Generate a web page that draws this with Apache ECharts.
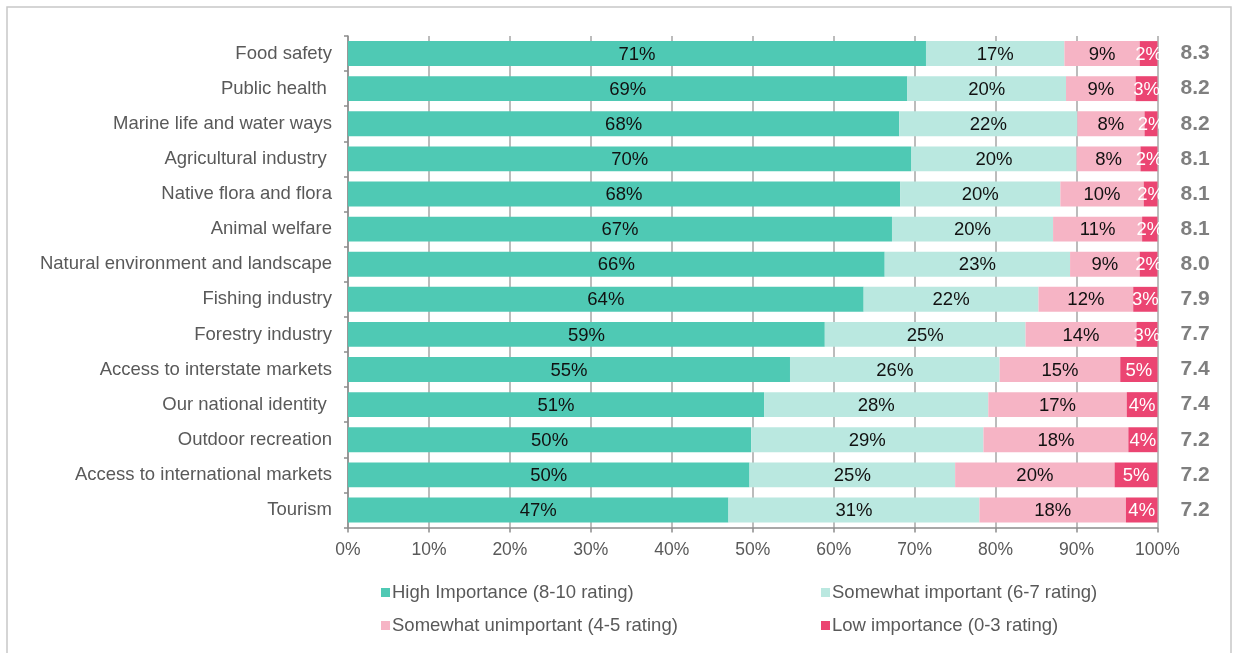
<!DOCTYPE html>
<html>
<head>
<meta charset="utf-8">
<script src="https://cdn.jsdelivr.net/npm/echarts@6/dist/echarts.min.js"></script>
<style>html,body{margin:0;padding:0;background:#fff;}#chart{width:1234px;height:653px;}</style>
</head>
<body>
<div id="chart"></div>
<script>
const categories = ["Food safety", "Public health ", "Marine life and water ways", "Agricultural industry ", "Native flora and flora", "Animal welfare", "Natural environment and landscape", "Fishing industry", "Forestry industry", "Access to interstate markets", "Our national identity ", "Outdoor recreation", "Access to international markets", "Tourism"];
const highImportance = [71.4, 69.1, 68.1, 69.6, 68.2, 67.2, 66.3, 63.7, 58.9, 54.6, 51.4, 49.8, 49.6, 47.0];
const somewhatImportant = [17.1, 19.6, 22.0, 20.4, 19.8, 19.9, 22.9, 21.6, 24.8, 25.9, 27.7, 28.7, 25.4, 31.0];
const somewhatUnimportant = [9.3, 8.6, 8.3, 7.9, 10.3, 11.0, 8.6, 11.7, 13.7, 14.9, 17.1, 17.9, 19.7, 18.1];
const lowImportance = [2.2, 2.7, 1.6, 2.1, 1.7, 1.9, 2.2, 3.0, 2.6, 4.6, 3.8, 3.6, 5.3, 3.9];
const meanScores = ["8.3", "8.2", "8.2", "8.1", "8.1", "8.1", "8.0", "7.9", "7.7", "7.4", "7.4", "7.2", "7.2", "7.2"];
const seriesNames = ["High Importance (8-10 rating)", "Somewhat important (6-7 rating)", "Somewhat unimportant (4-5 rating)", "Low importance (0-3 rating)"];
const xTicks = [0, 10, 20, 30, 40, 50, 60, 70, 80, 90, 100];

const colors = ["#4FC9B4", "#BAE8E0", "#F6B4C5", "#EB4572"];
const FONT = "'Liberation Sans', Arial, sans-serif";
const chart = echarts.init(document.getElementById('chart'), null, {renderer: 'canvas'});

function mkSeries(name, data, color, labelColor) {
  return {
    name: name, type: 'bar', stack: 'total', data: data,
    barCategoryGap: '29%',
    itemStyle: {color: color},
    label: {
      show: true, position: 'inside', color: labelColor,
      fontFamily: FONT, fontSize: 18.5, offset: [0, 1],
      formatter: p => Math.round(p.value) + '%'
    },
    emphasis: {disabled: true},
    z: 3
  };
}

function mkLegend(name, left, top) {
  return {
    data: [name], left: left, top: top,
    itemWidth: 9, itemHeight: 9, icon: 'rect', padding: 0,
    textStyle: {fontFamily: FONT, fontSize: 18.5, color: '#595959', padding: [0, 0, 0, -3]},
    selectedMode: false
  };
}

chart.setOption({
  animation: false,
  backgroundColor: '#fff',
  color: colors,
  graphic: [{
    type: 'rect', shape: {x: 7, y: 7, width: 1224, height: 700},
    style: {fill: 'none', stroke: '#C8C8C8', lineWidth: 1.5}, silent: true
  }],
  grid: {left: 348, right: 76.5, top: 36, bottom: 125.5, containLabel: false},
  legend: [
    mkLegend(seriesNames[0], 381, 583),
    mkLegend(seriesNames[1], 821, 583),
    mkLegend(seriesNames[2], 381, 616),
    mkLegend(seriesNames[3], 821, 616)
  ],
  xAxis: {
    type: 'value', min: xTicks[0], max: xTicks[xTicks.length - 1], interval: 10,
    axisLine: {show: true, lineStyle: {color: '#8C8C8C', width: 1.5}},
    axisTick: {show: true, length: 5, lineStyle: {color: '#8C8C8C', width: 1.5}},
    splitLine: {show: true, lineStyle: {color: '#A6A6A6', width: 1.5}},
    axisLabel: {fontFamily: FONT, fontSize: 17.5, color: '#595959', margin: 14, formatter: v => v + '%'}
  },
  yAxis: [{
    type: 'category', data: categories, inverse: true,
    axisLine: {show: true, lineStyle: {color: '#8C8C8C', width: 1.5}},
    axisTick: {show: true, length: 4, lineStyle: {color: '#8C8C8C', width: 1.5}},
    axisLabel: {fontFamily: FONT, fontSize: 18.5, color: '#595959', margin: 16, padding: [2, 0, 0, 0]}
  }, {
    type: 'category', data: meanScores, inverse: true, position: 'right',
    axisLine: {show: false}, axisTick: {show: false},
    axisLabel: {fontFamily: FONT, fontSize: 21, fontWeight: 'bold', color: '#7F7F7F', margin: 23, padding: [2, 0, 0, 0]}
  }],
  series: [
    mkSeries(seriesNames[0], highImportance, colors[0], '#111'),
    mkSeries(seriesNames[1], somewhatImportant, colors[1], '#111'),
    mkSeries(seriesNames[2], somewhatUnimportant, colors[2], '#111'),
    mkSeries(seriesNames[3], lowImportance, colors[3], '#fff')
  ]
});
</script>
</body>
</html>
